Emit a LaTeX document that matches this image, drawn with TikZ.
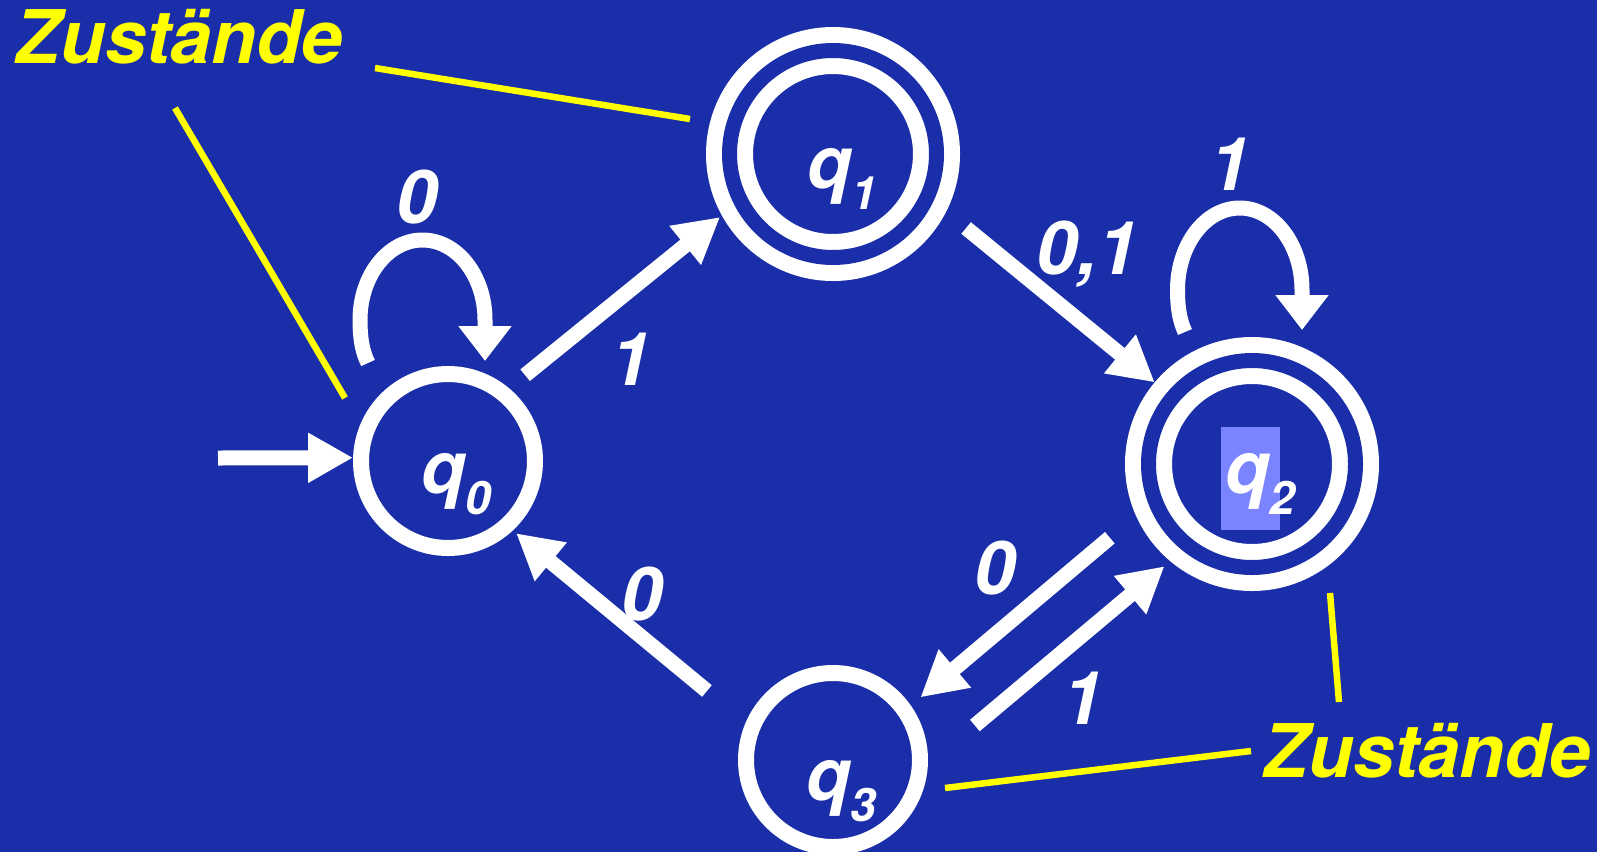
\documentclass[tikz,border=0pt]{standalone}
\usepackage{fontspec}
\setmainfont{TeX Gyre Heros}
\usetikzlibrary{arrows.meta}
\definecolor{bgblue}{RGB}{25,46,168}
\definecolor{hlblue}{RGB}{123,132,255}
\definecolor{markyellow}{RGB}{255,255,0}
% state name with a lowered index
\newcommand{\qsub}[1]{q\raisebox{-21pt}{\fontsize{46}{46}\selectfont #1}}
\begin{document}
\begin{tikzpicture}[x=1pt,y=-1pt,
  state/.style={circle, draw=white, line width=16pt, minimum size=174pt,
    inner sep=0pt, outer sep=8pt},
  accepting/.style={circle, draw=white, line width=16pt, double=bgblue,
    double distance=15pt, minimum size=207pt, inner sep=0pt, outer sep=23.5pt},
  qname/.style={text=white, inner sep=0pt, anchor=base west,
    font=\bfseries\itshape\fontsize{73}{73}\selectfont},
  lbl/.style={text=white, inner sep=0pt, anchor=base,
    font=\bfseries\itshape\fontsize{74}{74}\selectfont},
  note/.style={text=markyellow, inner sep=0pt, anchor=base west,
    font=\bfseries\itshape\fontsize{74}{74}\selectfont},
  arr/.style={draw=white, line width=15pt, -{Triangle[length=45pt,width=47pt]}},
  looparr/.style={draw=white, line width=15pt, -{Triangle[length=35pt,width=51pt]}},
  pointer/.style={draw=markyellow, line width=6.5pt},
]
\useasboundingbox (0,0) rectangle (1597,852);
\fill[bgblue] (0,0) rectangle (1597,852);
\clip (0,0) rectangle (1597,852);

% states
\node[state]     (q0) at (448,461) {};
\node[accepting] (q1) at (833,154) {};
\node[accepting] (q2) at (1252,464) {};
\node[state]     (q3) at (833,760) {};

% highlighted name field of q2
\fill[hlblue] ([shift={(-31,-37)}]q2.center) rectangle ([shift={(28,66)}]q2.center);

\node[qname] (n0) at ([shift={(-27,32)}]q0.center) {\qsub{0}};
\node[qname] (n1) at ([shift={(-26,34)}]q1.center) {\qsub{1}};
\node[qname] (n2) at ([shift={(-27,29)}]q2.center) {\qsub{2}};
\node[qname] (n3) at ([shift={(-27,40)}]q3.center) {\qsub{3}};

% start arrow
\coordinate (start) at (218,458);
\draw[arr] (start) -- (q0.178);

% transitions
\draw[arr, shorten <=20.7pt, shorten >=2.4pt] (q0.50.1) -- (q1.209);
\draw[arr, shorten <=25.8pt] (q1.333.8) -- (q2.140.7);
\draw[arr, shorten <=34.2pt, shorten >=12.6pt] (q2.204.4) -- (q3.35.5);
\draw[arr, shorten <=61.4pt, shorten >=7.7pt] (q3.357.4) -- (q2.230.3);
\draw[arr, shorten <=50.1pt, shorten >=4.3pt] (q3.157.7) -- (q0.313.5);

% self loops
\begin{scope}[shift={(q0.center)}]
  \draw[looparr] (-80,-98) .. controls (-86.5,-110.7) and (-88,-126) .. (-88,-141)
    .. controls (-88,-185.2) and (-60,-221) .. (-25.5,-221)
    .. controls (9,-221) and (37,-185.2) .. (37,-141) -- (37,-100);
\end{scope}
\begin{scope}[shift={(q2.center)}]
  \draw[looparr] (-67,-132) .. controls (-73,-144.7) and (-74.5,-159.2) .. (-74.5,-174)
    .. controls (-74.5,-219.3) and (-46.6,-256) .. (-12.25,-256)
    .. controls (22.1,-256) and (50,-219.3) .. (50,-174) -- (50,-134);
\end{scope}

% transition labels
\node[lbl] (l00) at (417,223) {0};
\node[lbl] (l22) at (1230,190) {1};
\node[lbl, anchor=base west] (l12) at (1036,274) {0,1};
\node[lbl] (l01) at (631,385) {1};
\node[lbl] (l30) at (642,620) {0};
\node[lbl] (l23) at (995,594) {0};
\node[lbl] (l32) at (1083,724) {1};

% captions with pointers
\node[note] (z1) at (15,63) {Zustände};
\node[note] (z2) at (1263,777) {Zustände};
\coordinate (p1a) at (375,68);  \coordinate (p1b) at (690,119);
\coordinate (p2a) at (175,108); \coordinate (p2b) at (345,398);
\coordinate (p3a) at (1330,593); \coordinate (p3b) at (1339,702);
\coordinate (p4a) at (945,788); \coordinate (p4b) at (1251,751);
\draw[pointer] (p1a) -- (p1b);
\draw[pointer] (p2a) -- (p2b);
\draw[pointer] (p3a) -- (p3b);
\draw[pointer] (p4a) -- (p4b);
\end{tikzpicture}
\end{document}
